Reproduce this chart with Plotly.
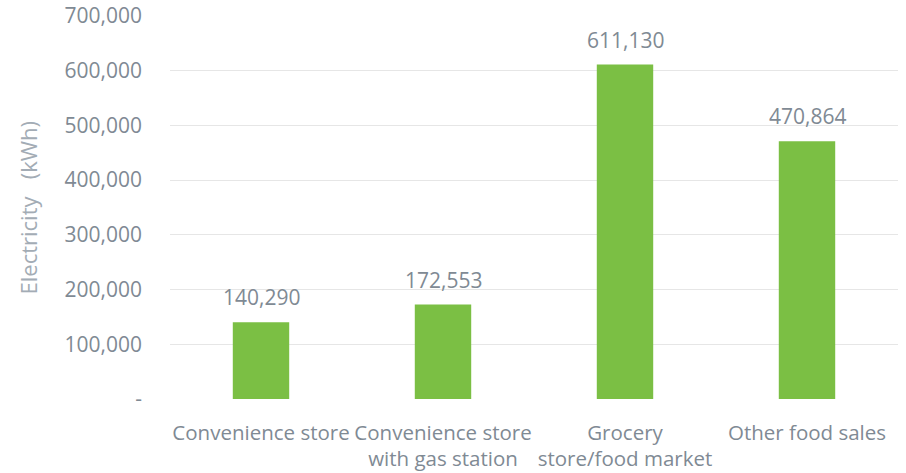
import plotly.graph_objects as go

categories = ["Convenience store", "Convenience store<br>with gas station",
              "Grocery<br>store/food market", "Other food sales"]
values = [140290, 172553, 611130, 470864]
tick_vals = [0, 100000, 200000, 300000, 400000, 500000, 600000, 700000]
tick_text = ["-", "100,000", "200,000", "300,000", "400,000", "500,000", "600,000", "700,000"]

GREY = "#7f8a94"
FONT = "Open Sans"
L, R = 170, 8

fig = go.Figure()
fig.add_trace(go.Bar(
    x=categories, y=values,
    marker=dict(color="#7bbf44", line=dict(width=0)),
))
for c, v in zip(categories, values):
    fig.add_annotation(x=c, y=v, text=f"{v:,}", showarrow=False,
                       yanchor="bottom", yshift=9,
                       font=dict(family=FONT, size=21, color=GREY))
fig.add_annotation(xref="paper", yref="paper", x=(27 - L) / (906 - L - R), y=0.5,
                   text="Electricity   (kWh)", textangle=-90, showarrow=False,
                   xanchor="center", yanchor="middle",
                   font=dict(family=FONT, size=22, color="#a3acb5"))
fig.update_layout(
    width=906, height=473,
    margin=dict(l=L, r=R, t=16, b=74),
    paper_bgcolor="white", plot_bgcolor="white",
    bargap=0.69,
    showlegend=False,
    font=dict(family=FONT, size=20, color=GREY),
    yaxis=dict(
        range=[0, 700000], tickvals=tick_vals, ticktext=tick_text,
        showgrid=True, gridcolor="#e6e6e6", gridwidth=1,
        zeroline=False, showline=False, ticks="",
        ticklabelstandoff=27, automargin=False,
        tickfont=dict(family=FONT, size=21, color=GREY),
    ),
    xaxis=dict(
        showgrid=False, showline=False, ticks="",
        ticklabelstandoff=19, automargin=False, tickangle=0,
        tickfont=dict(family=FONT, size=20.5, color=GREY),
    ),
)
fig.write_html("out.html")
